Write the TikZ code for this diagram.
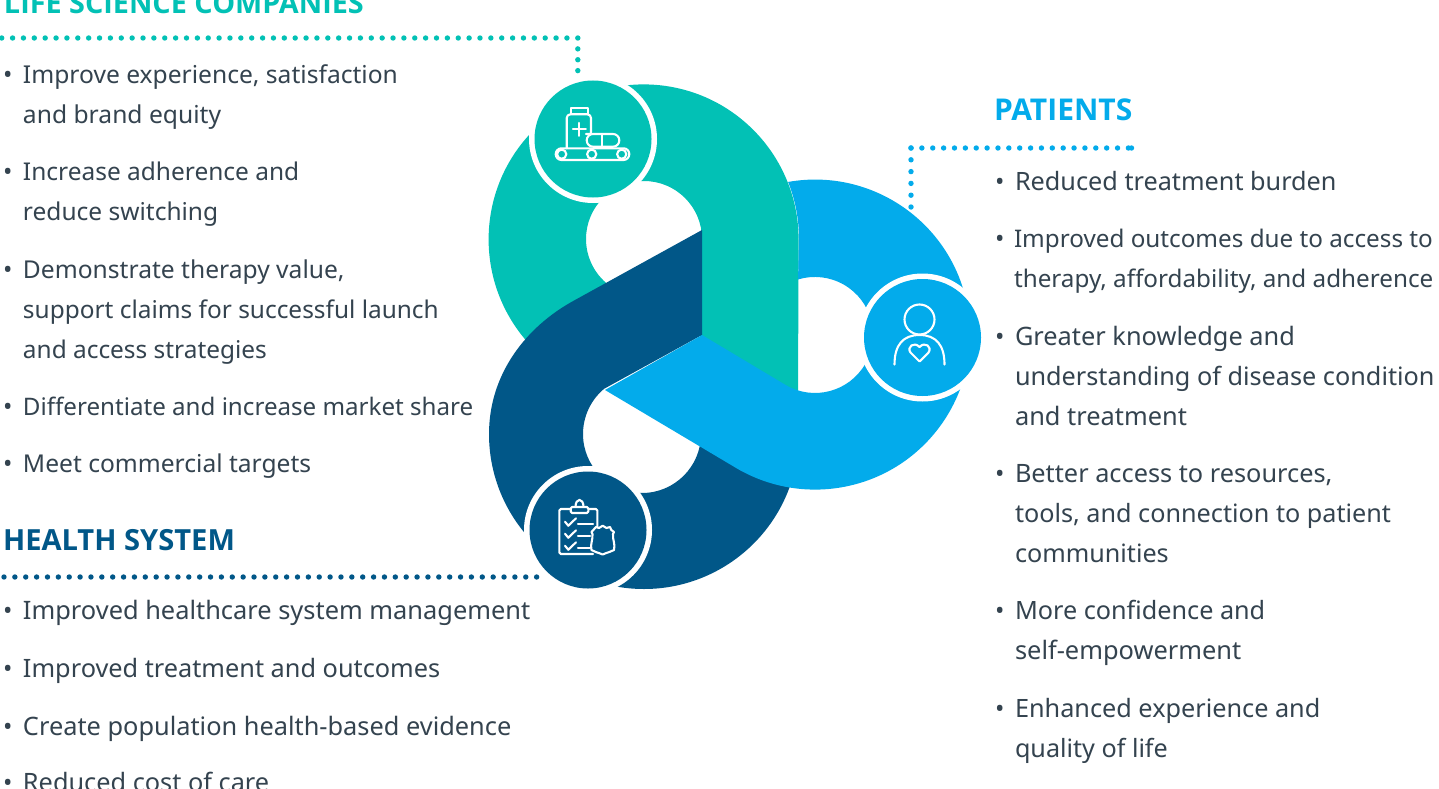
\documentclass[tikz,border=0pt]{standalone}
\usepackage{fontspec}
\setmainfont{Noto Sans}
\newfontfamily\headfont{Open Sans}
\definecolor{teal1}{HTML}{02C1B5}
\definecolor{navy1}{HTML}{015788}
\definecolor{sky1}{HTML}{03ABEB}
\definecolor{ink}{HTML}{34434F}
\tikzset{
  txt/.style={anchor=base west,inner sep=0pt,outer sep=0pt,text=ink},
  bul/.style={anchor=base west,inner sep=0pt,outer sep=0pt,text=ink,font=\fontsize{25}{25}\selectfont},
  head/.style={anchor=base west,inner sep=0pt,outer sep=0pt},
  dots/.style={line width=5.4pt,line cap=round,dash pattern=on 0pt off 10.87pt},
  vdots/.style={line width=5.4pt,line cap=round,dash pattern=on 0pt off 11.8pt},
  icon/.style={white,line width=2.1pt,line join=round,line cap=round},
  ring/.style={circle,fill=white,minimum size=128pt,inner sep=0pt,outer sep=0pt},
  disc/.style={circle,minimum size=117pt,inner sep=0pt,outer sep=0pt},
}
\begin{document}
\begin{tikzpicture}[x=1pt,y=1pt]
\useasboundingbox (0,-789) rectangle (1439,0);
\fill[white] (0,-789) rectangle (1439,0);
% teal band
\fill[teal1] (700,-340) -- (700,-245) -- (702,-239) arc[start angle=0,end angle=232,radius=58]
  -- (534,-349) arc[start angle=225,end angle=0,radius=155] -- (798,-395) -- cycle;
% navy band
\fill[navy1] (702,-230) -- (575,-300) .. controls (525,-327) and (489,-375) .. (489,-434)
  arc[start angle=180,end angle=345,radius=155] -- (701,-434)
  arc[start angle=0,end angle=-230,radius=59] -- (702,-335) -- cycle;
% sky band
\fill[sky1] (605,-390) -- (702,-335) -- (786,-385.2) arc[start angle=240,end angle=467,radius=58]
  -- (799,-239) arc[start angle=0,end angle=21.6,radius=155]
  arc[start angle=100,end angle=-120,radius=155] -- cycle;
% discs
\node[ring] (tealring) at (593,-139) {};
\node[disc,fill=teal1] (tealdisc) at (593,-139) {};
\node[ring] (navyring) at (588,-530) {};
\node[disc,fill=navy1] (navydisc) at (588,-530) {};
\node[ring] (skyring) at (922.5,-337.5) {};
\node[disc,fill=sky1] (skydisc) at (922.5,-337.5) {};
% teal icon
\draw[icon] (570.7,-114.3) rectangle (588.3,-107.7);
\draw[icon] (586,-134) -- (591,-134) -- (591,-118) arc[start angle=0,end angle=90,radius=3.7] -- (570.4,-114.3) arc[start angle=90,end angle=180,radius=3.7] -- (566.7,-148.3);
\draw[icon] (579.3,-122.8) -- (579.3,-135.8) (572.8,-129.3) -- (585.8,-129.3);
\draw[icon,rounded corners=6.3pt] (586.7,-134) rectangle (619.3,-146.7);
\draw[icon] (601.7,-134) -- (601.7,-146.7);
\draw[icon,rounded corners=5.8pt] (555.7,-148.3) rectangle (629.3,-160);
\draw[icon] (561.7,-154.2) circle[radius=4.6] (591.7,-154.2) circle[radius=4.6] (621.7,-154.2) circle[radius=4.6];
% navy icon
\draw[icon,rounded corners=1.5pt] (570.7,-509) -- (559.3,-509) -- (559.3,-554) -- (593,-554);
\draw[icon,rounded corners=1.5pt] (588.3,-509) -- (597.3,-509) -- (597.3,-527);
\draw[icon,rounded corners=1.5pt] (570.7,-507) rectangle (588.3,-513);
\draw[icon] (575.5,-507) .. controls (575.5,-497.5) and (583.5,-497.5) .. (583.5,-507);
\draw[icon] (565,-521.7) -- (568.3,-525.7) -- (576,-518.3) (565,-533.7) -- (568.3,-537.7) -- (576,-530.3) (565,-545.7) -- (568.3,-549.7) -- (576,-542.3);
\draw[icon] (578,-524) -- (593,-524) (578,-536) -- (590,-536) (578,-548.3) -- (590,-548.3);
\draw[icon] (602.7,-554.5) .. controls (597,-552) and (594,-552) .. (591.5,-550) .. controls (590,-544) and (593,-540) .. (592.5,-534) -- (591.5,-532) .. controls (594,-530) and (594,-530) .. (596,-527) -- (599,-528) -- (602.7,-525.7) -- (606.5,-528) -- (610,-527) .. controls (611,-530) and (611,-530) .. (614,-532) -- (613,-534) .. controls (612.5,-540) and (615.5,-544) .. (614,-550) .. controls (611,-552) and (608,-552) .. (602.7,-554.5) -- cycle;
% person icon
\draw[icon] (919.5,-319.5) circle[radius=15];
\draw[icon] (894.5,-364.5) .. controls (894.5,-345) and (903,-335) .. (919.5,-335) .. controls (936,-335) and (944.5,-345) .. (944.5,-364.5);
\draw[icon] (919.5,-361.5) -- (910.5,-352.5) .. controls (906.5,-347) and (914,-341) .. (919.5,-347) .. controls (925,-341) and (932.5,-347) .. (928.5,-352.5) -- cycle;
% headings and leaders
\node[head,text=teal1,font=\headfont\fontsize{28.8}{28.8}\selectfont\bfseries] (h1) at (4,-14) {LIFE SCIENCE COMPANIES};
\node[head,text=navy1,font=\headfont\fontsize{29.1}{29.1}\selectfont\bfseries] (h2) at (3,-550.5) {HEALTH SYSTEM};
\node[head,text=sky1,font=\headfont\fontsize{30}{30}\selectfont\bfseries] (h3) at (994,-121) {PATIENTS};
\coordinate (a1) at (1.7,-38); \coordinate (a2) at (577.8,-38); \coordinate (a3) at (577.8,-70.8);
\draw[dots,teal1] (a1) -- (a2) -- (a3);
\coordinate (b1) at (4,-577); \coordinate (b2) at (536.8,-577);
\draw[dots,navy1] (b1) -- (b2);
\coordinate (c0) at (1131.5,-148); \coordinate (c1) at (1129,-148); \coordinate (c2) at (911,-148); \coordinate (c3) at (911,-207.2);
\draw[dots,sky1] (c2) -- (c1);
\draw[vdots,sky1] (c2) -- (c3);
\fill[sky1] (c0) circle[radius=2.7];
% text with bullets
\foreach \nm/\xa/\xb/\yy/\sz/\tt in {
 l1/3/23/84/24.6/{Improve experience, satisfaction},
 l3/3/23/180/24.47/{Increase adherence and},
 l5/3/23/278/24.6/{Demonstrate therapy value,},
 l8/3/23/415/24.14/{Differentiate and increase market share},
 l9/3/23/472/24.57/{Meet commercial targets},
 m1/3/23/619.5/25.4/{Improved healthcare system management},
 m2/3/23/677/25.3/{Improved treatment and outcomes},
 m3/3/23/735/25.36/{Create population health-based evidence},
 m4/3/23/791/25.3/{Reduced cost of care},
 r1/995/1015/190/25.24/{Reduced treatment burden},
 r2/995/1014/247/24.25/{Improved outcomes due to access to},
 r4/995/1015/345/25.36/{Greater knowledge and},
 r7/995/1015/482/25.3/{Better access to resources,},
 r10/995/1015/619/25.2/{More confidence and},
 r12/995/1015/717/25.25/{Enhanced experience and}
}{
 \node[bul] (b\nm) at (\xa,-\yy) {•};
 \node[txt,font=\fontsize{\sz}{\sz}\selectfont] (\nm) at (\xb,-\yy) {\tt};
}
% continuation lines
\foreach \nm/\xb/\yy/\sz/\tt in {
 l2/23/124/24.63/{and brand equity},
 l4/23/220/24.5/{reduce switching},
 l6/23/318/24.41/{support claims for successful launch},
 l7/23/358/24.4/{and access strategies},
 r3/1014/287/24.25/{therapy, affordability, and adherence},
 r5/1015/385/25.24/{understanding of disease condition},
 r6/1015/425/25.4/{and treatment},
 r8/1015/522/25.2/{tools, and connection to patient},
 r9/1015/562/25.16/{communities},
 r11/1015/659/25.4/{self-empowerment},
 r13/1015/757/25.16/{quality of life}
}{
 \node[txt,font=\fontsize{\sz}{\sz}\selectfont] (\nm) at (\xb,-\yy) {\tt};
}
\end{tikzpicture}
\end{document}
